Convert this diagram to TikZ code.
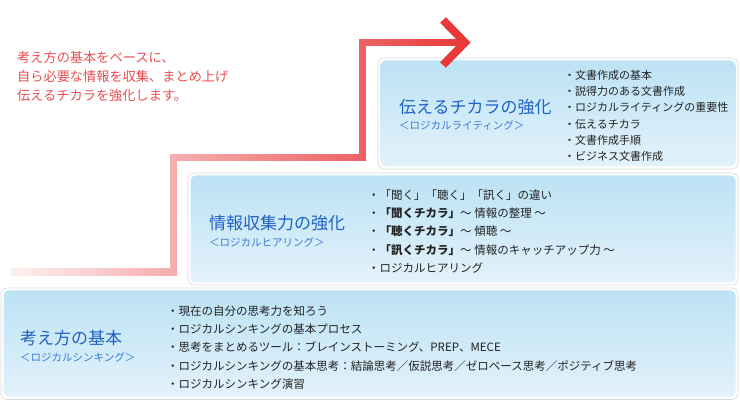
\documentclass[tikz,border=0pt]{standalone}
\usepackage{fontspec}
\setmainfont{Noto Sans CJK JP}
\usetikzlibrary{fadings}
\definecolor{stepred}{HTML}{E8383A}
\definecolor{boxtop}{HTML}{BCE2F4}
\definecolor{boxbot}{HTML}{E3F2FB}
\definecolor{titleblue}{HTML}{1F63C6}
\definecolor{subblue}{HTML}{3A7BD5}
\definecolor{bodytext}{HTML}{222222}
\tikzfading[name=stepfade, left color=transparent!93, right color=transparent!0]
\tikzset{
  frame/.style={draw=black!15, fill=white, rounded corners=6pt, line width=0.6pt},
  stepbox/.style={rounded corners=5pt, top color=boxtop, bottom color=boxbot},
  title/.style={anchor=west, text=titleblue, inner sep=0pt, font=\fontsize{17}{17}\selectfont},
  sub/.style={anchor=west, text=subblue, inner sep=0pt, font=\fontsize{10.5}{10.5}\selectfont},
  item/.style={anchor=west, text=bodytext, inner sep=0pt, font=\fontsize{11.5}{11.5}\selectfont},
  intro/.style={anchor=west, text=stepred!90, inner sep=0pt, font=\fontsize{13.2}{13.2}\selectfont},
}

\begin{document}
\begin{tikzpicture}[x=1pt, y=-1pt]
  \useasboundingbox (0,0) rectangle (740,401);
  % steps
  \draw[frame] (1,288) rectangle (738,399.5);
  \shade[stepbox] (3.5,290.5) rectangle (735.5,397);
  \draw[frame] (188,173) rectangle (738,285);
  \shade[stepbox] (190.5,175.5) rectangle (735.5,282.5);
  \draw[frame] (378,58) rectangle (738,169);
  \shade[stepbox] (380.5,60.5) rectangle (735.5,166.5);
  % red arrow
  \draw[stepred, line width=7.5pt, path fading=stepfade]
    (11,272) -- (173.5,272) -- (173.5,157.5) -- (362.5,157.5) -- (362.5,42.5) -- (462,42.5);
  \draw[stepred, line width=8pt] (443,20) -- (465,42.5) -- (443,65);
  % intro text
  \foreach \t [count=\i] in {考え方の基本をベースに、, 自ら必要な情報を収集、まとめ上げ, 伝えるチカラを強化します。}{
    \node[intro] (intro\i) at (17, {57+19.5*(\i-1)}) {\t};
  }
  % titles
  \node[title] (title3) at (399,107) {伝えるチカラの強化};
  \node[sub] (sub3) at (399,126) {＜ロジカルライティング＞};
  \node[title] (title2) at (209,223) {情報収集力の強化};
  \node[sub] (sub2) at (209,242) {＜ロジカルヒアリング＞};
  \node[title] (title1) at (20,338) {考え方の基本};
  \node[sub] (sub1) at (20,357) {＜ロジカルシンキング＞};
  % items
  \foreach \t [count=\i] in {文書作成の基本, 説得力のある文書作成, ロジカルライティングの重要性,
      伝えるチカラ, 文書作成手順, ビジネス文書作成}{
    \node[item, font=\fontsize{11}{11}\selectfont] (top\i) at (564, {75+16.3*(\i-1)}) {・\t};
  }
  \foreach \t [count=\i] in {「聞く」「聴く」「訊く」の違い,
      {{\bfseries 「聞くチカラ」}〜 情報の整理 〜},
      {{\bfseries 「聴くチカラ」}〜 傾聴 〜},
      {{\bfseries 「訊くチカラ」}〜 情報のキャッチアップ力 〜},
      ロジカルヒアリング}{
    \node[item] (mid\i) at (368, {195+18.3*(\i-1)}) {・\t};
  }
  \foreach \t [count=\i] in {現在の自分の思考力を知ろう, ロジカルシンキングの基本プロセス,
      思考をまとめるツール：ブレインストーミング、PREP、MECE,
      ロジカルシンキングの基本思考：結論思考／仮説思考／ゼロベース思考／ポジティブ思考,
      ロジカルシンキング演習}{
    \node[item] (low\i) at (167, {311+18.2*(\i-1)}) {・\t};
  }
\end{tikzpicture}
\end{document}
